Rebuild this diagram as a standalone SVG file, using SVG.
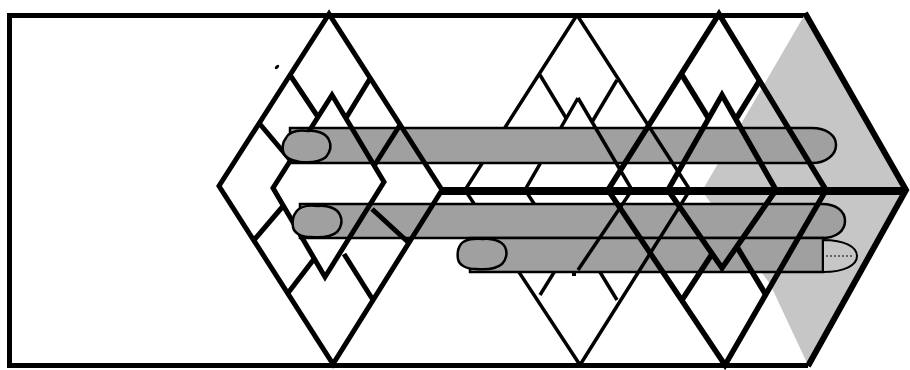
<svg xmlns="http://www.w3.org/2000/svg" width="910" height="370" viewBox="0 0 910 370">
<style>
.ln{fill:none;stroke:#000;stroke-linejoin:miter;stroke-linecap:butt}
.w1{stroke-width:5}
.w2{stroke-width:3.5}
.w3{stroke-width:5.5}
.bar{fill:#a0a0a0;stroke:#000;stroke-width:2.5}
.blob{fill:#a0a0a0;stroke:#000;stroke-width:2.5}
.cap{fill:#c6c6c6;stroke:#000;stroke-width:2}
</style>
<rect width="910" height="370" fill="#fff"/>
<g id="frame">
<path class="ln w1" d="M808,365.5 H9.5 V15.5 H805"/>
</g>
<g id="arrow-fill">
<polygon points="805,14 906,190 808,365 770,284 702,191" fill="#c6c6c6"/>
</g>
<g id="connectors">
<g id="d2-under" class="ln w2">
<path d="M577,15 L465,190 L580,365"/>
<path d="M578,98 L525,190 L578,270"/>
<path d="M540,75 L566,118"/>
<path d="M540,295 L566,253"/>
<path d="M617,300 L589,254"/>
</g>
</g>
<g id="bars">
<path id="barA" class="bar" d="M290,128 H812 C826,128 836,135 836,145 C836,155 826,163 812,163 H290 Z"/>
<path id="barB" class="bar" d="M300,204 H822 C836,204 845,211 845,221 C845,231 836,238 822,238 H300 Z"/>
<path id="barC" class="bar" d="M470,238 H823 V272 H470 Z"/>
</g>
<g id="diamond1" class="ln w1">
<path d="M329,14 L219,186 L333,364 L442,190 Z"/>
<path d="M332,95 L273,188 L325,277 L384,182 Z"/>
<path d="M290,75 L318,117"/>
<path d="M371,77 L346,118"/>
<path d="M259,123 L291,161"/>
<path d="M400,125 L374,166"/>
<path d="M254,240 L284,205"/>
<path d="M409,243 L372,209"/>
<path d="M288,293 L314,259"/>
<path d="M373,300 L344,254"/>
</g>
<g id="diamond2" class="ln w2">
<path d="M577,15 L690,190 L580,365"/>
<path d="M578,98 L632,190 L578,270"/>
<path d="M617,80 L592,122"/>
</g>
<g id="diamond3" class="ln w3">
<path d="M719,14 L608,190 L725,365 L826,190 Z"/>
<path d="M722,95 L668,190 L722,268 L776,190 Z"/>
<path d="M682,75 L709,119"/>
<path d="M760,80 L736,119"/>
<path d="M682,300 L712,254"/>
<path d="M766,295 L737,247"/>
</g>
<g id="spine">
<path class="ln" stroke-width="8" d="M440,191 H906"/>
</g>
<g id="blobs">
<path class="blob" d="M286,138 C290,131 300,130 308,131 C316,130 326,133 329,140 C332,146 330,152 326,157 C320,162 310,163 300,162 C291,161 284,157 283,151 C282,146 283,142 286,138 Z"/>
<path class="blob" d="M296,212 C300,206 310,205 318,206 C327,205 337,208 340,215 C343,221 341,228 337,232 C331,237 321,238 311,237 C301,237 294,233 293,227 C292,221 293,216 296,212 Z"/>
<path class="blob" d="M461,244 C465,239 475,238 483,239 C492,238 502,241 505,247 C508,253 506,260 502,264 C496,269 486,270 476,269 C466,269 459,265 458,259 C457,253 458,248 461,244 Z"/>
<path class="cap" d="M823,240 C845,240 857,247 857,256 C857,265 845,272 823,272 Z"/>
<path class="ln" stroke-width="1" stroke-dasharray="2,2" d="M826,256 H852"/>
</g>
<g id="arrow-edge">
<path class="ln" stroke-width="6" d="M805,13 L906,190 L808,366"/>
</g>
<g id="marks">
<ellipse cx="277" cy="67" rx="2.6" ry="1.5" transform="rotate(-40 277 67)" fill="#000"/>
<rect x="572" y="273" width="4" height="3" fill="#000"/>
</g>
</svg>
